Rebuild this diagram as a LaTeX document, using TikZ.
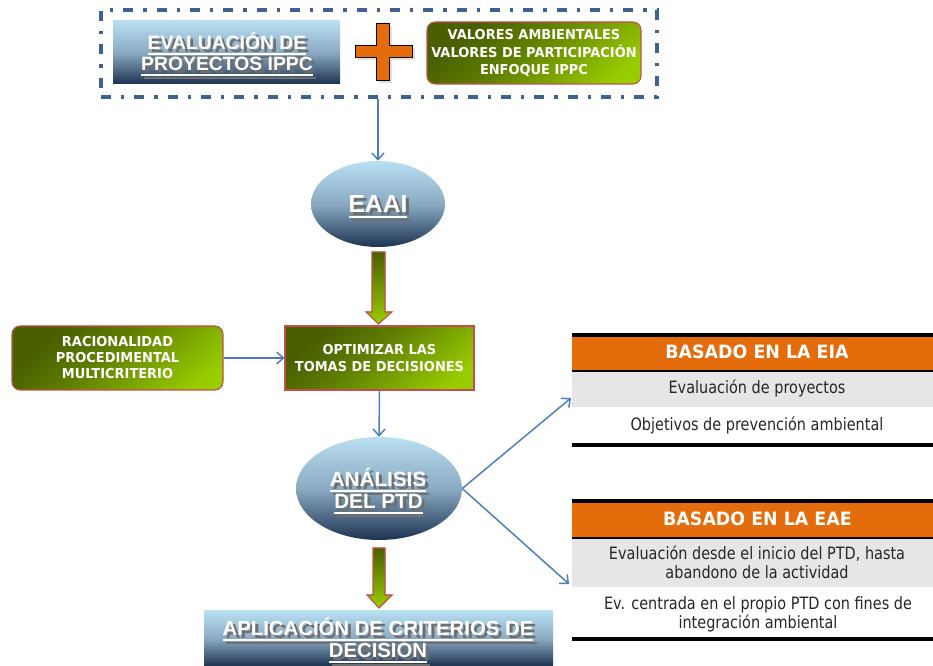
\documentclass[tikz,border=0pt]{standalone}
\usepackage{fontspec}
\setmainfont{Liberation Sans}
\newfontfamily\tahfont{DejaVu Sans}[FakeStretch=0.85]
\newfontfamily\tahbold{DejaVu Sans}[FakeStretch=0.95]
\usetikzlibrary{arrows.meta,shapes.geometric}

% palette
\definecolor{skytop}{HTML}{B9DFF2}
\definecolor{skymid}{HTML}{8AAAC2}
\definecolor{navy}{HTML}{1D3351}
\definecolor{olive}{HTML}{4A6000}
\definecolor{olivemid}{HTML}{5E7D00}
\definecolor{lime}{HTML}{9ACD00}
\definecolor{brick}{HTML}{C0504D}
\definecolor{pumpkin}{HTML}{E46C0A}
\definecolor{linkblue}{HTML}{4A7EBB}
\definecolor{frameblue}{HTML}{3F6190}
\definecolor{rowgray}{HTML}{E6E6E6}
\definecolor{shadegray}{HTML}{6F6F6F}
\definecolor{softshadow}{HTML}{E3E0D8}

% diagonal olive-to-lime wash for the green boxes
\pgfdeclareverticalshading{greenwash}{100bp}{color(0bp)=(lime); color(22bp)=(lime); color(55bp)=(olivemid); color(72bp)=(olive); color(100bp)=(olive)}

% thick underline and grey drop shadow for the headline labels
\newsavebox\ulinebox
\newcommand\whiteul[1]{\sbox\ulinebox{#1}\rlap{\rule[-4pt]{\wd\ulinebox}{2pt}}\usebox\ulinebox}
\newcommand\shadowed[1]{\leavevmode\rlap{\kern2.4pt\raisebox{-2.2pt}{\color{shadegray}\whiteul{#1}}}{\color{white}\whiteul{#1}}}

\tikzset{
  skybox/.style={rectangle, inner sep=0pt, top color=skytop, bottom color=navy, middle color=skymid},
  skyoval/.style={ellipse, inner sep=0pt, top color=skytop, bottom color=navy, middle color=skymid},
  greenbox/.style={rectangle, draw=brick, line width=0.8pt, shading=greenwash, shading angle=40,
    text=white, align=center, inner sep=0pt, font=\tahbold\bfseries\fontsize{10.25}{13}\selectfont},
  headline/.style={anchor=base, inner sep=0pt, font=\bfseries\fontsize{#1}{#1}\selectfont},
  dashframe/.style={draw=frameblue, line width=2.6pt, dash pattern=on 7.5pt off 7.5pt on 2.5pt off 7.5pt,
    inner sep=0pt},
  link/.style={draw=linkblue, line width=1.1pt, -{Straight Barb[length=5pt,width=9pt]}},
  fatarrow/.style={draw=brick, line width=0.8pt, top color=olive, bottom color=lime},
  thead/.style={anchor=base, inner sep=0pt, text=white, font=\tahbold\bfseries\fontsize{13.75}{14}\selectfont},
  tbody/.style={anchor=base, inner sep=0pt, text=black!85, font=\tahfont\fontsize{12.75}{14}\selectfont}
}

\begin{document}
\begin{tikzpicture}[x=0.75pt,y=-0.75pt]
\useasboundingbox (0,0) rectangle (933,666);

% top group
\node[dashframe, minimum width=417pt, minimum height=65.25pt] (frame) at (379,53.5) {};
\node[skybox, minimum width=170.25pt, minimum height=47.25pt] (evalbox) at (226.5,52.5) {};
\node[headline=14.5] (evalA) at (227,50) {\shadowed{EVALUACIÓN DE}};
\node[headline=14.5] (evalB) at (227,71) {\shadowed{PROYECTOS IPPC}};

\fill[softshadow] (379,26) -- (392,26) -- (392,48) -- (415,48) -- (415,60) -- (392,60) -- (392,83)
  -- (379,83) -- (379,60) -- (358,60) -- (358,48) -- (379,48) -- cycle;
\filldraw[fill=pumpkin, draw=black, line width=0.7pt] (376,23) -- (389,23) -- (389,45) -- (412,45)
  -- (412,57) -- (389,57) -- (389,80) -- (376,80) -- (376,57) -- (355,57) -- (355,45) -- (376,45) -- cycle;

\node[greenbox, rounded corners=6pt, minimum width=160.5pt, minimum height=46.5pt] (valores) at (534,53)
  {VALORES AMBIENTALES\\VALORES DE PARTICIPACIÓN\\ENFOQUE IPPC};

% EAAI
\node[skyoval, minimum width=100.5pt, minimum height=64.5pt] (eaai) at (378,204) {};
\node[headline=18.5] (eaaitext) at (378,213) {\shadowed{EAAI}};
\draw[link] (eaai.north |- frame.south) -- (eaai.north);

\filldraw[fatarrow] (372,252) -- (385,252) -- (385,312) -- (392,312) -- (378.5,324) -- (366,312)
  -- (372,312) -- cycle;

% decision optimisation row
\node[greenbox, minimum width=141.75pt, minimum height=48pt] (optim) at (379.5,358)
  {OPTIMIZAR LAS\\TOMAS DE DECISIONES};
\node[greenbox, rounded corners=6pt, minimum width=158.25pt, minimum height=48pt,
  font=\tahbold\bfseries\fontsize{10.25}{12}\selectfont] (racional) at (117.5,358)
  {RACIONALIDAD\\PROCEDIMENTAL\\MULTICRITERIO};
\draw[link] (racional.east) -- (optim.west);

% analysis of the PTD
\node[skyoval, minimum width=124.5pt, minimum height=77.25pt] (analisis) at (379,488.5) {};
\node[headline=15.5] (analA) at (378,487) {\shadowed{ANÁLISIS}};
\node[headline=15.5] (analB) at (378.5,509) {\shadowed{DEL PTD}};
\draw[link] (optim.south) -- (analisis.north);

\filldraw[fatarrow] (373,548) -- (385,548) -- (385,595) -- (392,595) -- (379,608) -- (367,595)
  -- (373,595) -- cycle;

\node[skybox, minimum width=261.75pt, minimum height=41.25pt] (aplic) at (378.5,638.5) {};
\node[headline=15.25] (aplicA) at (378,636) {\shadowed{APLICACIÓN DE CRITERIOS DE}};
\node[headline=15.25] (aplicB) at (378,658) {\shadowed{DECISIÓN}};

% EIA table
\fill[black] (572,333) rectangle (933,337);
\fill[pumpkin] (572,337) rectangle (933,370);
\fill[black] (572,370) rectangle (933,372);
\fill[rowgray] (572,372) rectangle (933,407);
\fill[black] (572,443) rectangle (933,447);
\node[thead] (eiahead) at (757,359) {BASADO EN LA EIA};
\node[tbody] (eiarow1) at (757,394) {Evaluación de proyectos};
\node[tbody] (eiarow2) at (757,431) {Objetivos de prevención ambiental};

% EAE table
\fill[black] (572,499) rectangle (933,503);
\fill[pumpkin] (572,503) rectangle (933,537);
\fill[black] (572,537) rectangle (933,539);
\fill[rowgray] (572,539) rectangle (933,587);
\fill[black] (572,637) rectangle (933,641);
\node[thead] (eaehead) at (757.5,526) {BASADO EN LA EAE};
\node[tbody] (eaerow1a) at (757,560) {Evaluación desde el inicio del PTD, hasta};
\node[tbody] (eaerow1b) at (757,579) {abandono de la actividad};
\node[tbody] (eaerow2a) at (758,610) {Ev. centrada en el propio PTD con fines de};
\node[tbody] (eaerow2b) at (758,629) {integración ambiental};

% branches to the two approaches
\coordinate (eiain) at (571,398);
\coordinate (eaein) at (569,584);
\draw[link] (analisis.east) -- (eiain);
\draw[link] (analisis.east) -- (eaein);
\end{tikzpicture}
\end{document}
